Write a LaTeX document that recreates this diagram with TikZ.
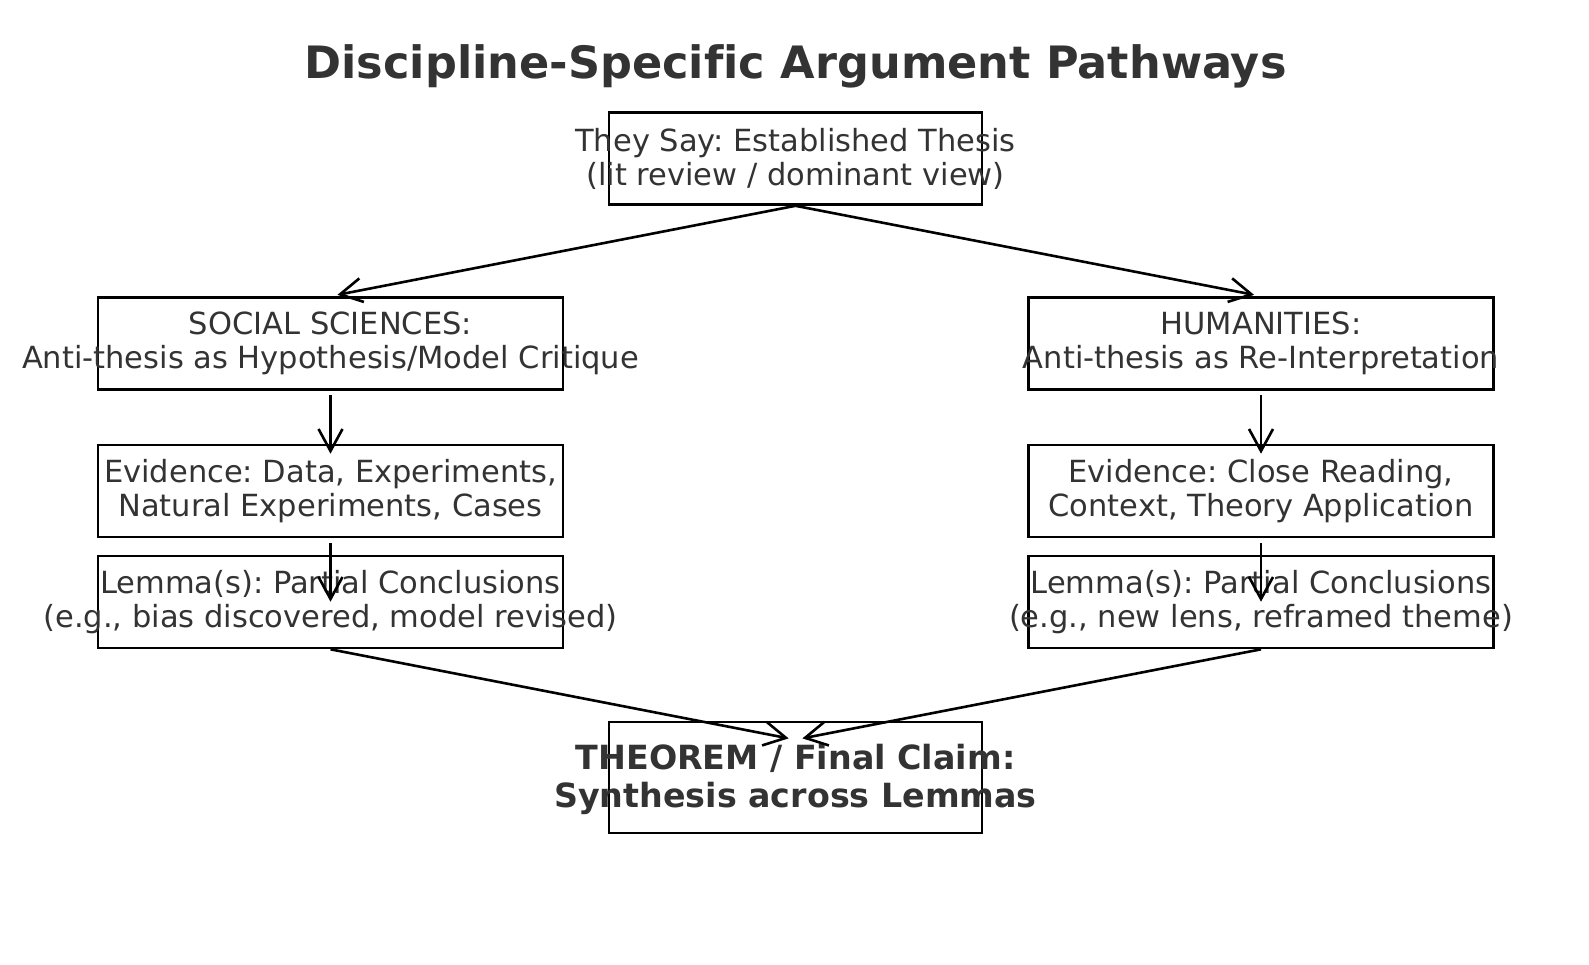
\documentclass[tikz,border=0pt]{standalone}
\usepackage{fontspec}
\setmainfont{DejaVu Sans}[Ligatures=NoCommon]
\usetikzlibrary{arrows.meta}
\definecolor{txt}{HTML}{333333}
\frenchspacing
\begin{document}
\begin{tikzpicture}[x=1pt,y=-1pt,
  box/.style={draw=black, line width=2.6pt, inner sep=0pt, minimum width=465pt, minimum height=92pt},
  cbox/.style={box, minimum width=373pt},
  lbl/.style={text=txt, align=center, inner sep=0pt, font=\fontsize{30.5}{34}\selectfont},
  blbl/.style={lbl, font=\fontsize{33.3}{38}\selectfont\bfseries},
  arr/.style={draw=black, line width=2.6pt, -{Straight Barb[length=22pt,width=24pt]}},
]
\useasboundingbox (0,0) rectangle (1589,964);
\fill[white] (0,0) rectangle (1589,964);

\node[text=txt, inner sep=0pt, anchor=base, font=\fontsize{44.6}{50}\selectfont\bfseries] (title) at (795.5,78) {Discipline-Specific Argument Pathways};

% boxes
\node[cbox] (top) at (795.5,158.5) {};
\node[box] (soc) at (330.5,343.5) {};
\node[box] (evl) at (330.5,491) {};
\node[box] (leml) at (330.5,602) {};
\node[box] (hum) at (1261,343.5) {};
\node[box] (evr) at (1261,491) {};
\node[box] (lemr) at (1261,602) {};
\node[cbox, minimum height=111pt] (thm) at (795.5,777.5) {};

% texts
\node[lbl] (toptxt) at (top) {They Say: Established Thesis\\(lit review / dominant view)};
\node[lbl] (soctxt) at (soc) {SOCIAL SCIENCES:\\Anti-thesis as Hypothesis/Model Critique};
\node[lbl] (evltxt) at (evl) {Evidence: Data, Experiments,\\Natural Experiments, Cases};
\node[lbl] (lemltxt) at (leml) {Lemma(s): Partial Conclusions\\(e.g., bias discovered, model revised)};
\node[lbl] (humtxt) at (hum) {HUMANITIES:\\Anti-thesis as Re-Interpretation};
\node[lbl] (evrtxt) at (evr) {Evidence: Close Reading,\\Context, Theory Application};
\node[lbl] (lemrtxt) at (lemr) {Lemma(s): Partial Conclusions\\(e.g., new lens, reframed theme)};
\node[blbl] (thmtxt) at ([yshift=-1.5pt]thm.center) {THEOREM / Final Claim:\\Synthesis across Lemmas};

% arrows
\draw[arr, shorten >=7pt] (top.south) -- (soc.north);
\draw[arr, shorten >=7pt] (top.south) -- (hum.north);
\draw[arr] ([yshift=-4pt]soc.south) -- ([yshift=-10pt]evl.north);
\draw[arr] ([yshift=-4pt]hum.south) -- ([yshift=-10pt]evr.north);
\draw[arr] ([yshift=-5pt]evl.south) -- ([yshift=-47pt]leml.north);
\draw[arr] ([yshift=-5pt]evr.south) -- ([yshift=-47pt]lemr.north);
\draw[arr, shorten >=7pt] (leml.south) -- ([yshift=-19pt]thm.north);
\draw[arr, shorten >=7pt] (lemr.south) -- ([yshift=-19pt]thm.north);
\end{tikzpicture}
\end{document}
